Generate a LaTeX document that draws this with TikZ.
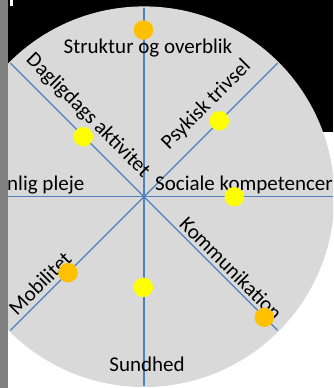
\documentclass[tikz,border=0pt]{standalone}
\usepackage{fontspec}
\setmainfont{Carlito}
\usetikzlibrary{calc}
\definecolor{disk}{HTML}{D9D9D9}
\definecolor{axisblue}{HTML}{4F81BD}
\definecolor{dotyellow}{HTML}{FFFF00}
\definecolor{dotorange}{HTML}{FFC000}
\definecolor{stripgray}{HTML}{808080}
\begin{document}
\begin{tikzpicture}[x=1pt,y=1pt,
  lbl/.style={inner sep=0pt, font=\fontsize{21}{25}\selectfont, text=black},
  dot/.style={circle, inner sep=0pt, minimum size=19.5pt},
  ydot/.style={dot, fill=dotyellow},
  odot/.style={dot, fill=dotorange},
  axis/.style={draw=axisblue, line width=1.3pt}]
\useasboundingbox (0,0) rectangle (333,-388);
\begin{scope}
\clip (0,0) rectangle (333,-388);
\fill[white] (0,0) rectangle (333,-388);
\fill[black] (8,0) rectangle (333,-132);
\fill[white] (9.5,0) rectangle (13,-6);
\coordinate (c) at (144,-196.7);
\fill[disk] (c) circle (190.3);
\coordinate (pn) at ($(c)+(90:189)$);
\coordinate (ps) at ($(c)+(270:189)$);
\coordinate (pe) at ($(c)+(0:189)$);
\coordinate (pw) at ($(c)+(180:189)$);
\coordinate (pne) at ($(c)+(45:189)$);
\coordinate (pnw) at ($(c)+(135:189)$);
\coordinate (psw) at ($(c)+(225:189)$);
\coordinate (pse) at ($(c)+(315:189)$);
\draw[axis] (pn) -- (ps);
\draw[axis] (pw) -- (pe);
\draw[axis] (pnw) -- (pse);
\draw[axis] (psw) -- (pne);
\node[lbl, anchor=base] (struktur) at (148,-53.3) {Struktur og overblik};
\node[lbl, anchor=base] (sundhed) at (147,-371) {Sundhed};
\node[lbl, anchor=base west] (pleje) at (7,-190) {nlig pleje};
\node[lbl, anchor=base west] (sociale) at (155,-190.5) {Sociale kompetencer};
\node[lbl, anchor=base, rotate=45] (psykisk) at (210.3,-108.8) {Psykisk trivsel};
\node[lbl, anchor=base, rotate=-45] (daglig) at (84,-119.5) {Dagligdags aktivitet};
\node[lbl, anchor=base, rotate=-45] (kommun) at (226,-273.3) {Kommunikation};
\node[lbl, anchor=base, rotate=45] (mobil) at (45,-288.3) {Mobilitet};
\node[odot] (d1) at (143.5,-30) {};
\node[ydot] (d2) at (219.3,-120.8) {};
\node[ydot] (d3) at (83.3,-136.7) {};
\node[ydot] (d4) at (234.3,-196.7) {};
\node[odot] (d5) at (68,-272.7) {};
\node[ydot] (d6) at (143.3,-287.3) {};
\node[odot] (d7) at (264.3,-317.3) {};
\fill[stripgray] (0,0) rectangle (8,-388);
\end{scope}
\end{tikzpicture}
\end{document}
